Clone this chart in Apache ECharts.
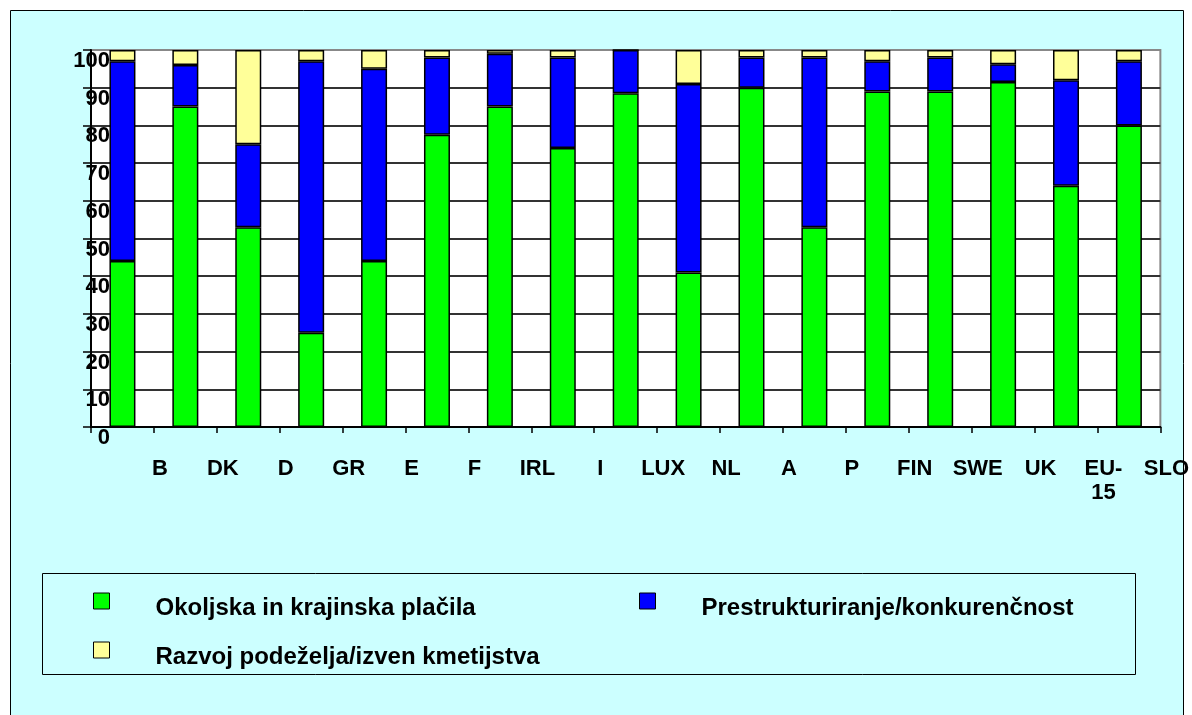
<!DOCTYPE html>
<html>
<head>
<meta charset="utf-8">
<script src="https://cdn.jsdelivr.net/npm/echarts@6/dist/echarts.min.js"></script>
<style>
html,body{margin:0;padding:0;background:#fff;}
#chart{width:1192px;height:715px;}
</style>
</head>
<body>
<div id="chart"></div>
<script>
const categories = ['B','DK','D','GR','E','F','IRL','I','LUX','NL','A','P','FIN','SWE','UK','EU-15','SLO'];
const seriesNames = ['Okoljska in krajinska plačila','Prestrukturiranje/konkurenčnost','Razvoj podeželja/izven kmetijstva'];
const okoljska = [44,85,53,25,44,77.5,85,74,88.5,41,90,53,89,89,91.5,64,80];
const prestrukturiranje = [53,11,22,72,51,20.5,14,24,11.5,50,8,45,8,9,4.7,28,17];
const razvoj = [3,4,25,3,5,2,1,2,0,9,2,2,3,2,3.8,8,3];
const yTicks = [0,10,20,30,40,50,60,70,80,90,100];

const colors = ['#00FF00','#0000FF','#FFFF99'];
const FONT = '"Liberation Sans", Arial, sans-serif';
const chart = echarts.init(document.getElementById('chart'));

function legendFor(i, left, top) {
  return {
    data: [seriesNames[i]],
    left: left, top: top, padding: 0,
    itemWidth: 16, itemHeight: 16,
    selectedMode: false,
    icon: 'rect',
    itemStyle: {borderColor: '#000', borderWidth: 1},
    formatter: n => '{t|' + n + '}',
    textStyle: {
      fontFamily: FONT, fontWeight: 'bold', fontSize: 24, color: '#000',
      rich: {t: {fontFamily: FONT, fontWeight: 'bold', fontSize: 24, color: '#000', lineHeight: 24, padding: [14,0,0,41]}}
    }
  };
}

const datasets = [okoljska, prestrukturiranje, razvoj];
const splitColors = yTicks.map((v, i) => i === yTicks.length - 1 ? '#888' : '#333');

chart.setOption({
  backgroundColor: '#fff',
  animation: false,
  graphic: [
    {type: 'rect', z: -10, shape: {x: 10.5, y: 10.5, width: 1173, height: 730}, style: {fill: '#CCFFFF', stroke: '#000', lineWidth: 1}},
    {type: 'rect', z: -5, shape: {x: 42.5, y: 573.5, width: 1093, height: 101}, style: {fill: 'none', stroke: '#000', lineWidth: 1}}
  ],
  grid: {left: 91, top: 50, right: 31, bottom: 288, show: true, backgroundColor: '#fff', borderColor: '#888', borderWidth: 2, containLabel: false},
  legend: [legendFor(0, 93, 582), legendFor(1, 639, 582), legendFor(2, 93, 631)],
  xAxis: {
    type: 'category',
    data: categories,
    boundaryGap: true,
    axisLine: {show: true, lineStyle: {color: '#000', width: 2}},
    axisTick: {show: true, length: 6, alignWithLabel: false, lineStyle: {color: '#000', width: 1.5}},
    axisLabel: {
      interval: 0, margin: 30, color: '#000', fontFamily: FONT, fontWeight: 'bold', fontSize: 22, lineHeight: 24,
      padding: [0,0,0,75], align: 'center',
      formatter: v => v.replace('-', '-\n')
    },
    splitLine: {show: false}
  },
  yAxis: {
    type: 'value', min: 0, max: 100, interval: 10,
    axisLine: {show: true, lineStyle: {color: '#000', width: 2}},
    axisTick: {show: true, length: 8, lineStyle: {color: '#000', width: 1.5}},
    axisLabel: {
      margin: -19, color: '#000', fontFamily: FONT, fontWeight: 'bold', fontSize: 22,
      verticalAlign: 'top', lineHeight: 22,
      formatter: v => (yTicks.indexOf(v) >= 0 ? String(v) : '')
    },
    splitLine: {show: true, lineStyle: {color: splitColors, width: 2}}
  },
  series: datasets.map((d, i) => ({
    name: seriesNames[i],
    type: 'bar',
    stack: 'total',
    data: d,
    barWidth: 26,
    itemStyle: {color: colors[i], borderColor: '#000', borderWidth: 1.5}
  }))
});
</script>
</body>
</html>
